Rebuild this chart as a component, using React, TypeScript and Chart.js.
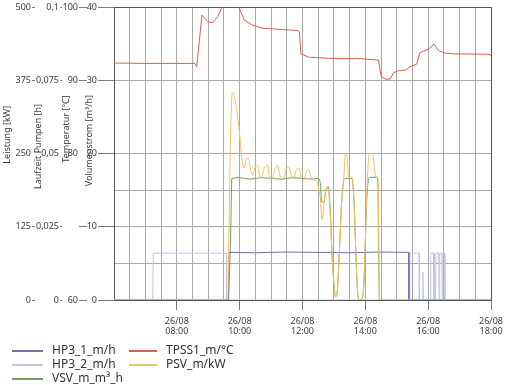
import React, { useEffect, useRef } from 'react';
import { Chart, registerables } from 'chart.js';

Chart.register(...registerables);

const FONT = '"Noto Sans", "Open Sans", sans-serif';

// ---- x axis -------------------------------------------------------------
const xDate = '26/08';
const xLabelTimes = ['08:00', '10:00', '12:00', '14:00', '16:00', '18:00'];
const xStart = '06:00';
const xEnd = '18:00';

// ---- y axes tick labels ---------------------------------------------------
const leistungTicks = ['0', '125', '250', '375', '500'];
const laufzeitTicks = ['0', '0,025', '0,05', '0,075', '0,1'];
const tempTicks = ['60', '', '80', '90', '100'];
const volumenTicks = ['0', '10', '20', '30', '40'];

// ---- series ---------------------------------------------------------------
const hp31Times = ['06:00', '09:38', '09:39', '10:30', '11:30', '12:30', '13:30', '14:30', '15:23', '15:23', '18:00'];
const hp31Values = [0, 0, 6.5, 6.45, 6.55, 6.5, 6.45, 6.55, 6.5, 0, 0];

const hp32Times = ['06:00', '07:14', '07:15', '08:30', '09:35', '09:35', '15:25', '15:25', '15:43', '15:43',
  '15:49', '15:50', '15:51', '16:05', '16:05', '16:10', '16:11', '16:12', '16:14', '16:15',
  '16:20', '16:21', '16:22', '16:26', '16:27', '16:28', '16:31', '16:32', '18:00'];
const hp32Values = [0, 0, 6.4, 6.4, 6.4, 0, 0, 6.4, 6.4, 0,
  0, 3.8, 0, 0, 6.4, 6.4, 0, 6.4, 0, 6.4,
  6.4, 0, 6.4, 6.4, 0, 6.4, 6.4, 0, 0];

const vsvTimes = ['06:00', '09:38', '09:40', '09:43', '09:45', '10:00', '10:20', '10:40', '11:00', '11:20',
  '11:40', '12:00', '12:20', '12:30', '12:34', '12:37', '12:41', '12:44', '12:49', '12:51',
  '12:54', '12:56', '13:00', '13:03', '13:06', '13:09', '13:12', '13:15', '13:19', '13:22',
  '13:34', '13:36', '13:39', '13:41', '13:44', '13:46', '13:49', '13:55', '13:58', '14:00',
  '14:03', '14:06', '14:09', '14:22', '14:24', '14:25', '14:27', '18:00'];
const vsvValues = [0, 0, 2.7, 9.6, 16.6, 16.7, 16.5, 16.7, 16.6, 16.5,
  16.7, 16.6, 16.5, 16.6, 15.9, 13.4, 13.4, 14.8, 15.5, 14.6,
  10.5, 6.8, 2.3, 0.45, 0.9, 4.5, 9.1, 13.6, 16.4, 16.6,
  16.6, 15.9, 12.7, 8.2, 2.7, 0.45, 0, 0.45, 3.6, 8.2,
  14.1, 16.4, 16.75, 16.75, 15.9, 8.2, 0, 0];

const tpssTimes = ['06:00', '07:00', '08:00', '08:34', '08:38', '08:48', '08:59', '09:08', '09:18', '09:24',
  '09:28', '09:40', '09:56', '09:58', '10:09', '10:24', '10:43', '11:15', '11:50', '11:54',
  '11:57', '12:12', '12:50', '13:34', '13:41', '14:25', '14:30', '14:38', '14:47', '14:54',
  '15:03', '15:18', '15:25', '15:38', '15:44', '15:54', '16:03', '16:11', '16:19', '16:32',
  '16:51', '17:54', '18:00'];
const tpssValues = [92.35, 92.3, 92.3, 92.3, 91.85, 98.9, 98.0, 97.85, 98.7, 99.6,
  100.5, 101.5, 100.5, 100.0, 98.2, 97.55, 97.1, 96.95, 96.8, 96.6,
  93.6, 93.15, 93.0, 92.95, 93.0, 92.75, 90.6, 90.15, 90.15, 91.05,
  91.3, 91.4, 91.85, 92.2, 93.75, 94.05, 94.35, 94.95, 94.05, 93.7,
  93.6, 93.55, 93.4];

const psvTimes = ['06:00', '09:37', '09:39', '09:42', '09:46', '09:50', '09:56', '10:01', '10:04', '10:09',
  '10:12', '10:17', '10:21', '10:24', '10:30', '10:34', '10:38', '10:42', '10:47', '10:53',
  '10:57', '11:02', '11:08', '11:12', '11:18', '11:25', '11:29', '11:34', '11:39', '11:44',
  '11:48', '11:53', '11:58', '12:03', '12:07', '12:12', '12:17', '12:22', '12:28', '12:31',
  '12:34', '12:37', '12:39', '12:42', '12:45', '12:49', '12:51', '12:54', '12:56', '13:00',
  '13:03', '13:06', '13:09', '13:12', '13:14', '13:19', '13:22', '13:25', '13:28', '13:31',
  '13:34', '13:37', '13:41', '13:44', '13:46', '13:49', '13:55', '13:58', '14:00', '14:03',
  '14:06', '14:09', '14:14', '14:17', '14:20', '14:24', '14:25', '14:27', '18:00'];
const psvValues = [0, 0, 85, 256, 354, 347, 313, 273, 242, 225,
  239, 242, 222, 213, 227, 230, 213, 210, 225, 230,
  210, 208, 225, 230, 210, 208, 225, 227, 210, 208,
  222, 225, 208, 205, 219, 222, 208, 205, 202, 188,
  174, 137, 145, 174, 188, 191, 174, 125, 85, 28,
  6, 11, 57, 114, 159, 210, 250, 245, 210, 208,
  210, 188, 102, 34, 6, 0, 6, 46, 102, 188,
  239, 250, 250, 227, 210, 208, 159, 0, 0];

// ---- styling ----------------------------------------------------------------
const C_HP31 = '#6f72aa';
const C_HP32 = '#c5c5e2';
const C_VSV = '#6fa05e';
const C_TPSS = '#d8604e';
const C_PSV = '#efc35c';
const GRID = '#a9a9a9';
const EDGE = '#555555';
const TICK = '#7a7a7a';
const LABEL = '#3c3c3c';
const NONE = 'rgba(0,0,0,0)';

const legendItems = [
  { label: 'HP3_1_m/h', color: C_HP31, col: 0, row: 0 },
  { label: 'HP3_2_m/h', color: C_HP32, col: 0, row: 1 },
  { label: 'VSV_m_m³_h', color: C_VSV, col: 0, row: 2 },
  { label: 'TPSS1_m/°C', color: C_TPSS, col: 1, row: 0 },
  { label: 'PSV_m/kW', color: C_PSV, col: 1, row: 1 },
];

const toMin = (t: string) => {
  const [h, m] = t.split(':').map(Number);
  return h * 60 + m;
};
const pts = (times: string[], vals: number[]) => times.map((t, i) => ({ x: toMin(t), y: vals[i] }));

const tickFont = { family: FONT, size: 9 };
const titleFont = { family: FONT, size: 9 };
const sp = (n: number) => ' '.repeat(n);

export default function App() {
  const ref = useRef<HTMLCanvasElement | null>(null);

  useEffect(() => {
    document.body.style.margin = '0';
    const canvas = ref.current;
    if (!canvas) return;
    Chart.defaults.font.family = FONT;

    const ds = (label: string, times: string[], vals: number[], color: string, yAxisID: string, mono: boolean, order: number) => ({
      label,
      data: pts(times, vals),
      borderColor: color,
      backgroundColor: color,
      borderWidth: 1,
      pointRadius: 0,
      fill: false,
      yAxisID,
      order,
      cubicInterpolationMode: mono ? 'monotone' : 'default',
      tension: 0,
    });

    const idx = (ticks: string[]) => (_v: any, i: number) => ticks[i] ?? '';

    const chart = new Chart(canvas, {
      type: 'line',
      data: {
        datasets: [
          ds('HP3_1_m/h', hp31Times, hp31Values, C_HP31, 'yV', false, 1),
          ds('HP3_2_m/h', hp32Times, hp32Values, C_HP32, 'yV', false, 2),
          ds('VSV_m_m³_h', vsvTimes, vsvValues, C_VSV, 'yV', true, 3),
          ds('TPSS1_m/°C', tpssTimes, tpssValues, C_TPSS, 'yT', false, 4),
          ds('PSV_m/kW', psvTimes, psvValues, C_PSV, 'yP', true, 0),
        ] as any,
      },
      options: {
        responsive: false,
        animation: false,
        devicePixelRatio: 1,
        layout: { padding: { top: 7, right: 16, bottom: 43, left: 0 } },
        plugins: { legend: { display: false }, tooltip: { enabled: false } },
        scales: {
          x: {
            type: 'linear',
            position: 'bottom',
            min: toMin(xStart),
            max: toMin(xEnd),
            afterFit: (s: any) => { s.height = 42; },
            ticks: {
              stepSize: 30,
              autoSkip: false,
              maxRotation: 0,
              padding: 6,
              color: LABEL,
              font: { family: FONT, size: 9, lineHeight: 1.15 },
              callback: (v: any) => {
                const t = xLabelTimes.find((s) => toMin(s) === Number(v));
                return t ? [xDate, t] : '';
              },
            },
            grid: {
              color: (c: any) => (c.tick && (c.tick.value === toMin(xStart) || c.tick.value === toMin(xEnd)) ? EDGE : GRID),
              tickColor: (c: any) => (c.tick && xLabelTimes.some((s) => toMin(s) === c.tick.value) ? TICK : NONE),
              tickLength: 10,
              lineWidth: 1,
            },
            border: { color: EDGE, width: 1 },
          },
          yP: {
            type: 'linear',
            position: 'left',
            weight: 4,
            min: 0,
            max: 500,
            afterFit: (s: any) => { s.width = 35; },
            ticks: { stepSize: 125, padding: 1, color: LABEL, font: tickFont, callback: idx(leistungTicks) },
            grid: {
              drawOnChartArea: false,
              tickLength: 3,
              tickColor: (c: any) => (c.tick && c.tick.value === 250 ? NONE : TICK),
            },
            border: { display: false },
            title: { display: true, text: sp(16) + 'Leistung [kW]', color: LABEL, font: titleFont, padding: { top: 1.6, bottom: 0 } },
          },
          yH: {
            type: 'linear',
            position: 'left',
            weight: 3,
            min: 0,
            max: 0.1,
            afterFit: (s: any) => { s.width = 27; },
            ticks: { stepSize: 0.025, padding: 1, color: LABEL, font: tickFont, callback: idx(laufzeitTicks) },
            grid: {
              drawOnChartArea: false,
              tickLength: 2,
              tickColor: (c: any) => (c.index === 2 ? NONE : TICK),
            },
            border: { display: false },
            title: { display: true, text: sp(6) + 'Laufzeit Pumpen [h]', color: LABEL, font: titleFont, padding: { top: -2.4, bottom: 0 } },
          },
          yT: {
            type: 'linear',
            position: 'left',
            weight: 2,
            min: 60,
            max: 100,
            afterFit: (s: any) => { s.width = 25; },
            ticks: { stepSize: 10, padding: 1, color: LABEL, font: tickFont, callback: idx(tempTicks) },
            grid: {
              drawOnChartArea: false,
              tickLength: 8,
              tickColor: (c: any) => (c.tick && c.tick.value === 80 ? NONE : TICK),
            },
            border: { display: false },
            title: { display: true, text: sp(21) + 'Temperatur [°C]', color: LABEL, font: titleFont, padding: { top: -1.4, bottom: 0 } },
          },
          yV: {
            type: 'linear',
            position: 'left',
            weight: 1,
            min: 0,
            max: 40,
            afterFit: (s: any) => { s.width = 27; },
            ticks: {
              stepSize: 5,
              padding: 1,
              color: LABEL,
              font: tickFont,
              callback: (v: any) => {
                const i = volumenTicks.indexOf(String(v));
                return i >= 0 ? volumenTicks[i] : '';
              },
            },
            grid: {
              color: (c: any) => {
                const v = c.tick ? c.tick.value : 0;
                if (v === 40) return EDGE;
                if (v === 25 || v === 35) return NONE;
                return GRID;
              },
              tickColor: (c: any) => (c.tick && c.tick.value % 10 === 0 ? TICK : NONE),
              tickLength: 16,
              lineWidth: 1,
            },
            border: { color: EDGE, width: 1 },
            title: { display: true, text: sp(11) + 'Volumenstrom [m³/h]', color: LABEL, font: titleFont, padding: { top: -3.4, bottom: 0 } },
          },
        },
      } as any,
    });
    return () => chart.destroy();
  }, []);

  return (
    <div style={{ position: 'fixed', left: 0, top: 0, width: 509, height: 385, background: '#fff' }}>
      <canvas ref={ref} width={509} height={385} style={{ display: 'block' }} />
      {legendItems.map((it) => {
        const top = 344 + it.row * 14;
        const lineLeft = it.col === 0 ? 12 : 129;
        const lineW = it.col === 0 ? 31 : 28;
        const textLeft = it.col === 0 ? 52 : 166;
        return (
          <React.Fragment key={it.label}>
            <div style={{ position: 'absolute', left: lineLeft, top: top + 6, width: lineW, height: 2, background: it.color }} />
            <div style={{ position: 'absolute', left: textLeft, top: top - 2, fontFamily: FONT, fontSize: 12, lineHeight: '16px', color: '#333', whiteSpace: 'nowrap' }}>
              {it.label}
            </div>
          </React.Fragment>
        );
      })}
    </div>
  );
}
